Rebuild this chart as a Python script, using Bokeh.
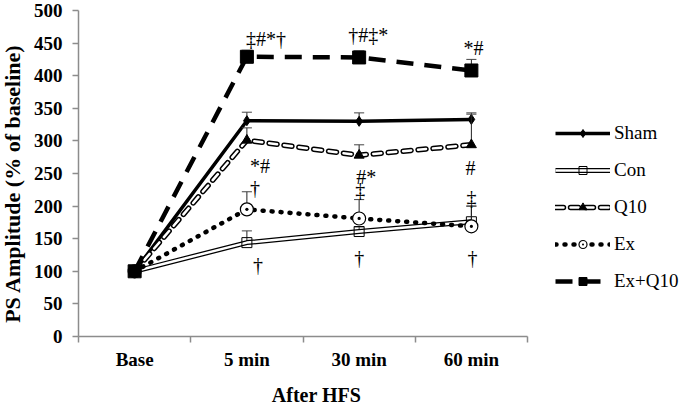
import math
from bokeh.plotting import figure
from bokeh.models import Range1d, FixedTicker, Legend, LegendItem
from bokeh.core.properties import value
from bokeh.embed import file_html
from bokeh.resources import INLINE

categories = ["Base", "5 min", "30 min", "60 min"]
sham = [100, 331, 330, 333]
sham_err = [0, 13, 13, 10]
con = [100, 144, 161, 176]
con_err = [0, 18, 7, 24]
q10 = [100, 301, 278, 294]
q10_err = [0, 19, 16, 47]
ex = [100, 195, 181, 169]
ex_err = [0, 27, 29, 31]
exq10 = [100, 429, 428, 408]
exq10_err = [0, 10, 10, 17]
y_ticks = [0, 50, 100, 150, 200, 250, 300, 350, 400, 450, 500]

annot_text = ["‡#*†", "†#‡*", "*#", "*#", "†", "#*", "‡", "#", "‡", "†", "†", "†"]
annot_cat = [1, 2, 3, 1, 1, 2, 2, 3, 3, 1, 2, 3]
annot_val = [457, 462, 443, 262, 228, 245, 224, 259, 212, 109, 121, 121]
annot_dx = [-1, -11, -8, 3, 3, -3, -4, -6, -5, 6, -5, -4]

x_title = "After HFS"
y_title = "PS Amplitude (% of baseline)"

SERIF = "Liberation Serif, Times New Roman, serif"
xs = [i + 0.5 for i in range(len(categories))]

# frame fills the whole figure; axes are pinned at x=0 / y=0
W, H = 685, 407
AX_L, AX_B, AX_T = 78, 336, 10          # pixel positions of axes in the page
PX_X = (527 - AX_L) / 4.0               # pixels per category
PX_Y = (AX_B - AX_T) / 500.0            # pixels per y unit

p = figure(width=W, height=H, output_backend="svg", toolbar_location=None,
           x_range=Range1d(-AX_L / PX_X, (W - AX_L) / PX_X),
           y_range=Range1d(-(H - AX_B) / PX_Y, 500 + AX_T / PX_Y),
           min_border=0, min_border_left=0, min_border_right=0,
           min_border_top=0, min_border_bottom=0)
p.outline_line_color = None
p.xgrid.visible = False
p.ygrid.visible = False

def errbars(vals, errs):
    x0 = [x for x, e in zip(xs, errs) if e > 0]
    y0 = [v for v, e in zip(vals, errs) if e > 0]
    y1 = [v + e for v, e in zip(vals, errs) if e > 0]
    p.segment(x0=x0, y0=y0, x1=x0, y1=y1, line_color="#222222", line_width=1)
    p.segment(x0=[x - 0.045 for x in x0], y0=y1, x1=[x + 0.045 for x in x0], y1=y1,
              line_color="#444444", line_width=1)

# Sham
errbars(sham, sham_err)
r_sham_l = p.line(xs, sham, line_color="black", line_width=3.5)
r_sham_m = p.scatter(xs, sham, marker="diamond", size=10, fill_color="black", line_color="black")

# Con
errbars(con, con_err)
r_con_l1 = p.line(xs, con, line_color="black", line_width=5)
r_con_l2 = p.line(xs, con, line_color="white", line_width=2.5)
r_con_m = p.scatter(xs, con, marker="square", size=10, fill_alpha=0, line_color="black", line_width=1)

# Q10
errbars(q10, q10_err)
r_q_l1 = p.line(xs, q10, line_color="black", line_width=5.5, line_dash="8 7", line_cap="round")
r_q_l2 = p.line(xs, q10, line_color="white", line_width=2.5, line_dash="8 7", line_cap="round")
r_q_m = p.scatter(xs, q10, marker="triangle", size=10, fill_color="black", line_color="black")

# Ex
errbars(ex, ex_err)
r_ex_l = p.line(xs, ex, line_color="black", line_width=4.5, line_dash="1 8", line_cap="round")
r_ex_m = p.scatter(xs, ex, marker="circle_dot", size=13, fill_color="white", line_color="black", line_width=1.2)

# Ex+Q10
errbars(exq10, exq10_err)
r_eq_l = p.line(xs, exq10, line_color="black", line_width=4.5, line_dash="17 11")
r_eq_m = p.scatter(xs, exq10, marker="square", size=13, fill_color="black", line_color="black")

# significance annotations
p.text(x=[xs[c] for c in annot_cat], y=annot_val, text=annot_text,
       x_offset=annot_dx, text_font=value(SERIF), text_font_size="20px",
       text_align="left", text_baseline="middle", text_color="black")

# axis titles
p.text(x=[(316 - AX_L) / PX_X], y=[-(394 - AX_B) / PX_Y], text=[x_title],
       text_font=value(SERIF), text_font_style="bold", text_font_size="20px",
       text_align="center", text_baseline="middle", text_color="black")
p.text(x=[(12 - AX_L) / PX_X], y=[(AX_B - 183) / PX_Y], text=[y_title], angle=math.pi / 2,
       text_font=value(SERIF), text_font_style="bold", text_font_size="22px",
       text_align="center", text_baseline="middle", text_color="black")

# axes
ax = p.xaxis[0]
ax.fixed_location = 0
ax.ticker = FixedTicker(ticks=xs, minor_ticks=[0, 1, 2, 3, 4])
ax.major_label_overrides = {x: c for x, c in zip(xs, categories)}
ax.bounds = (0, 4)
ax.major_tick_out = 0
ax.major_tick_in = 0
ax.minor_tick_out = 6
ax.minor_tick_in = 0
ax.axis_line_color = "#8c8c8c"
ax.minor_tick_line_color = "#8c8c8c"
ax.axis_line_width = 1.5
ax.minor_tick_line_width = 1.5
ax.major_label_text_font = SERIF
ax.major_label_text_font_style = "bold"
ax.major_label_text_font_size = "19px"
ax.major_label_text_color = "black"
ax.major_label_standoff = 6

ay = p.yaxis[0]
ay.fixed_location = 0
ay.ticker = FixedTicker(ticks=y_ticks, minor_ticks=[])
ay.bounds = (0, 500)
ay.axis_line_color = "#8c8c8c"
ay.major_tick_line_color = "#8c8c8c"
ay.axis_line_width = 1.5
ay.major_tick_line_width = 1.5
ay.major_tick_out = 6
ay.major_tick_in = 0
ay.major_label_text_font = SERIF
ay.major_label_text_font_style = "bold"
ay.major_label_text_font_size = "19px"
ay.major_label_text_color = "black"
ay.major_label_standoff = 10

legend = Legend(items=[
    LegendItem(label="Sham", renderers=[r_sham_l, r_sham_m]),
    LegendItem(label="Con", renderers=[r_con_l1, r_con_l2, r_con_m]),
    LegendItem(label="Q10", renderers=[r_q_l1, r_q_l2, r_q_m]),
    LegendItem(label="Ex", renderers=[r_ex_l, r_ex_m]),
    LegendItem(label="Ex+Q10", renderers=[r_eq_l, r_eq_m]),
], location=(555, H - 292))
legend.glyph_width = 55
legend.glyph_height = 20
legend.spacing = 15
legend.padding = 0
legend.margin = 0
legend.label_standoff = 4
legend.border_line_color = None
legend.background_fill_alpha = 0
legend.label_text_font = SERIF
legend.label_text_font_size = "19px"
legend.label_text_color = "black"
p.add_layout(legend, "center")

open("out.html", "w").write(file_html(p, INLINE))
